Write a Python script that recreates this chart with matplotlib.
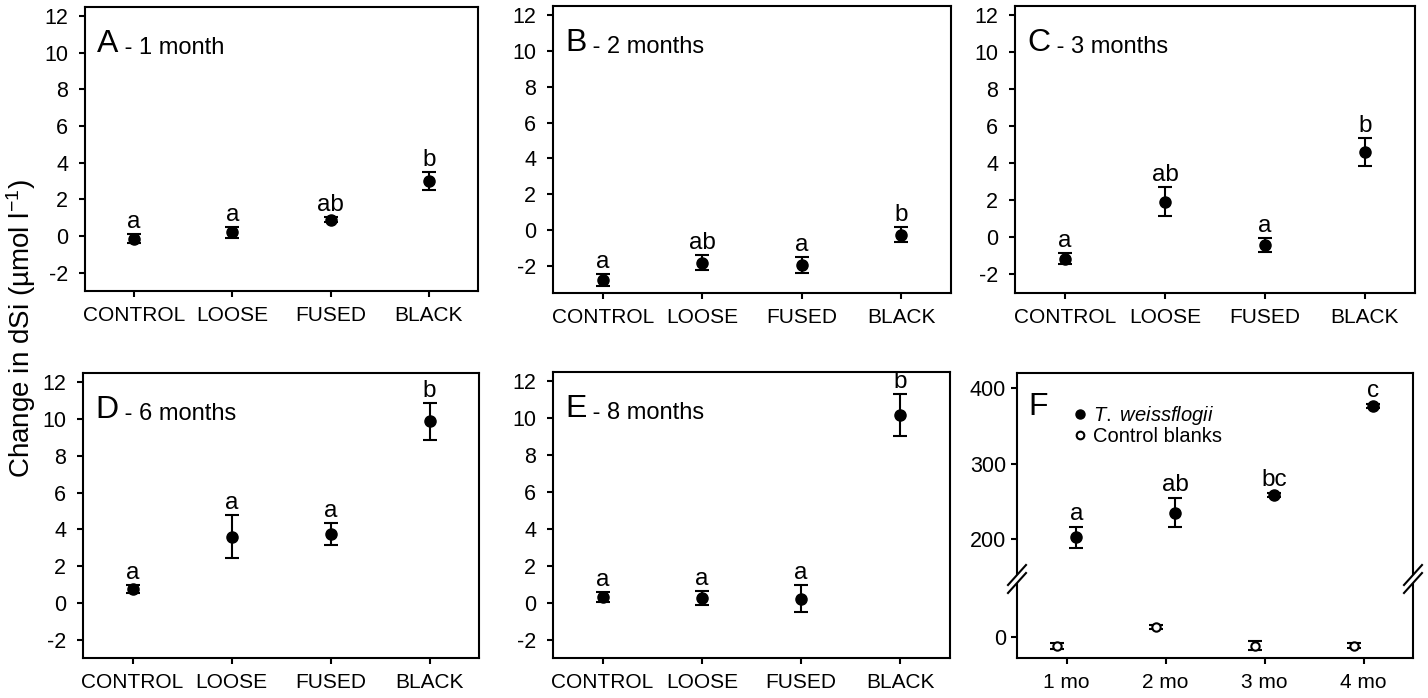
import matplotlib
matplotlib.use("Agg")
import matplotlib.pyplot as plt
from matplotlib.lines import Line2D
from matplotlib.patches import Polygon

plt.rcParams["font.family"] = ["Liberation Sans", "DejaVu Sans"]
plt.rcParams["mathtext.fontset"] = "custom"
plt.rcParams["mathtext.rm"] = "Liberation Sans"
plt.rcParams["mathtext.it"] = "Liberation Sans:italic"
plt.rcParams["axes.unicode_minus"] = False

W, H = 1428, 698

# data
treatments = ["CONTROL", "LOOSE", "FUSED", "BLACK"]

a_mean = [-0.15, 0.2, 0.9, 3.0]
a_err = [0.25, 0.3, 0.13, 0.48]
a_letters = ["a", "a", "ab", "b"]

b_mean = [-2.79, -1.8, -1.95, -0.24]
b_err = [0.33, 0.44, 0.43, 0.43]
b_letters = ["a", "ab", "a", "b"]

c_mean = [-1.14, 1.94, -0.42, 4.6]
c_err = [0.32, 0.8, 0.38, 0.76]
c_letters = ["a", "ab", "a", "b"]

d_mean = [0.76, 3.6, 3.75, 9.88]
d_err = [0.2, 1.16, 0.6, 1.0]
d_letters = ["a", "a", "a", "b"]

e_mean = [0.31, 0.27, 0.22, 10.17]
e_err = [0.27, 0.38, 0.72, 1.16]
e_letters = ["a", "a", "a", "b"]

months = ["1 mo", "2 mo", "3 mo", "4 mo"]
tw_mean = [202, 235, 258, 376]
tw_err = [13.5, 19, 2.5, 2.5]
tw_letters = ["a", "ab", "bc", "c"]
blank_mean = [-12.5, 13.5, -11.5, -11.5]
blank_err = [4, 3, 6, 3]


def px_rect(x0, y0, x1, y1):
    return [x0 / W, 1 - y1 / H, (x1 - x0) / W, (y1 - y0) / H]


def style_axes(ax, ypad=8):
    for s in ax.spines.values():
        s.set_linewidth(1.5)
    ax.tick_params(direction="out", length=4, width=1.5, top=False, right=False)
    ax.tick_params(axis="y", labelsize=15.5, pad=ypad)
    ax.tick_params(axis="x", labelsize=15, pad=7)


def draw_panel(ax, mean, err, letters, letter, title, ylim):
    x = range(len(treatments))
    ax.errorbar(x, mean, yerr=err, fmt="o", color="black", ms=8,
                capsize=5, capthick=1.5, elinewidth=1.5)
    for xi, m, e, lab in zip(x, mean, err, letters):
        ax.annotate(lab, (xi, m + e), xytext=(0, 6), textcoords="offset pixels",
                    ha="center", va="baseline", fontsize=17.5)
    ax.set_xlim(-0.5, 3.5)
    ax.set_ylim(*ylim)
    ax.set_yticks(range(-2, 13, 2))
    ax.set_xticks(list(x))
    ax.set_xticklabels(treatments)
    style_axes(ax)
    t = ax.annotate(letter, (0, 1), xycoords="axes fraction", xytext=(12, -45),
                    textcoords="offset pixels", fontsize=23, va="baseline")
    ax.annotate(title, (1, 0), xycoords=t, va="bottom", fontsize=17)


fig = plt.figure(figsize=(W / 100, H / 100), dpi=100)

panels = [
    ((85, 7, 478, 291), a_mean, a_err, a_letters, "A", " - 1 month", (-3, 12.5)),
    ((553, 6, 951, 293), b_mean, b_err, b_letters, "B", " - 2 months", (-3.5, 12.5)),
    ((1015, 6, 1415, 293), c_mean, c_err, c_letters, "C", " - 3 months", (-3, 12.5)),
    ((83, 373, 479, 658), d_mean, d_err, d_letters, "D", " - 6 months", (-3, 12.5)),
    ((553, 372, 950, 658), e_mean, e_err, e_letters, "E", " - 8 months", (-3, 12.5)),
]
for rect, mean, err, letters, letter, title, ylim in panels:
    ax = fig.add_axes(px_rect(*rect))
    draw_panel(ax, mean, err, letters, letter, title, ylim)

# panel F with broken axis
brk = 579
ax_top = fig.add_axes(px_rect(1017, 373, 1413, brk))
ax_bot = fig.add_axes(px_rect(1017, brk, 1413, 658))
xm = [1, 2, 3, 4]
x_tw = [v + 0.1 for v in xm]
x_bl = [v - 0.1 for v in xm]

for ax in (ax_top, ax_bot):
    ax.errorbar(x_tw, tw_mean, yerr=tw_err, fmt="o", color="black", ms=8,
                capsize=5, capthick=1.5, elinewidth=1.5)
    ax.errorbar(x_bl, blank_mean, yerr=blank_err, fmt="o", color="black",
                mfc="white", mec="black", mew=1.5, ms=6,
                capsize=5, capthick=1.5, elinewidth=1.5)
    ax.set_xlim(0.5, 4.5)
    style_axes(ax, ypad=4)

ax_top.set_ylim(147, 420)
ax_top.set_yticks([200, 300, 400])
ax_top.spines["bottom"].set_visible(False)
ax_top.tick_params(axis="x", bottom=False, labelbottom=False)
ax_bot.set_ylim(-28, 77)
ax_bot.set_yticks([0])
ax_bot.spines["top"].set_visible(False)
ax_bot.set_xticks(xm)
ax_bot.set_xticklabels(months)

for xi, m, e, lab in zip(x_tw, tw_mean, tw_err, tw_letters):
    ax_top.annotate(lab, (xi, m + e), xytext=(0, 7), textcoords="offset pixels",
                    ha="center", va="baseline", fontsize=17.5)

ax_top.annotate("F", (0, 1), xycoords="axes fraction", xytext=(11, -42),
                textcoords="offset pixels", fontsize=23, va="baseline")

handles = [
    Line2D([], [], ls="none", marker="o", color="black", ms=6.5),
    Line2D([], [], ls="none", marker="o", mfc="white", mec="black", mew=1.5, ms=5.5),
]
ax_top.legend(handles, ["$\\it{T.\\ weissflogii}$", "Control blanks"],
              loc="upper left", bbox_to_anchor=(0.11, 0.89), frameon=False,
              fontsize=14.5, handletextpad=0.1, labelspacing=0.0,
              handlelength=1.1, borderaxespad=0)

# break marks on both sides
fx = lambda px: px / W
fy = lambda py: 1 - py / H
for sx in (1017, 1413):
    fig.add_artist(Polygon(
        [(fx(sx - 9), fy(brk + 6)), (fx(sx + 9), fy(brk - 14)),
         (fx(sx + 9), fy(brk - 6)), (fx(sx - 9), fy(brk + 14))],
        closed=True, transform=fig.transFigure, facecolor="white",
        edgecolor="none", zorder=10))
    for off in (-4, 4):
        fig.add_artist(Line2D([fx(sx - 9), fx(sx + 9)],
                              [fy(brk + 10 + off), fy(brk - 10 + off)],
                              transform=fig.transFigure, color="black",
                              lw=1.5, zorder=11))

fig.text(21 / W, 1 - 329 / H, "Change in dSi (µmol l$^{-1}$)", rotation=90,
         ha="center", va="center", fontsize=20)

fig.savefig("out.png", dpi=100)
